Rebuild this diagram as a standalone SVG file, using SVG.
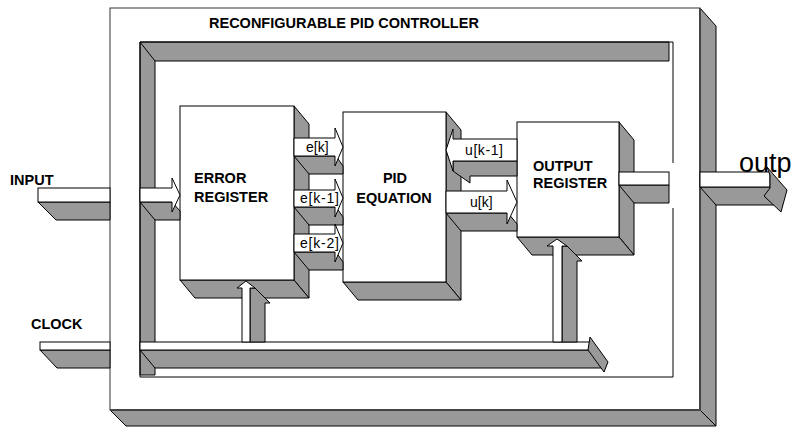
<svg xmlns="http://www.w3.org/2000/svg" width="798" height="428" viewBox="0 0 798 428">
<style>
.g{fill:#999;stroke:#000;stroke-width:1;stroke-linejoin:miter}
.w{fill:#fff;stroke:#000;stroke-width:1}
.b{font-family:"Liberation Sans",Arial,sans-serif;font-weight:bold;font-size:14.5px;fill:#000}
.r{font-family:"Liberation Sans",Arial,sans-serif;font-size:14px;fill:#000}
</style>
<rect width="798" height="428" fill="#fff"/>
<g id="outer-box">
<polygon class="g" points="700,8 716,26 716,426 700,410"/>
<polygon class="g" points="110,410 700,410 716,426 126,426"/>
<rect x="110" y="8" width="590" height="402" fill="#fff" stroke="#333"/>
<polyline points="110,410 700,410 700,8" fill="none" stroke="#444" stroke-width="2"/>
<text class="b" x="209" y="28" font-size="15">RECONFIGURABLE PID CONTROLLER</text>
</g>
<g id="inner-frame">
<polygon class="g" points="140,42 669,42 669,61 155,61 155,375 140,375"/>
<line x1="140" y1="42" x2="155" y2="61" stroke="#000"/>
<path d="M673,163 V42 H140 V377 H673 V208" fill="none" stroke="#000"/>
</g>
<g id="error-register">
<polygon class="g" points="294,106 309,124 309,298 294,280"/>
<polygon class="g" points="180,280 294,280 309,298 195,298"/>
<rect class="w" x="180" y="106" width="114" height="174"/>
<text class="b" x="194" y="183">ERROR</text>
<text class="b" x="194" y="202">REGISTER</text>
</g>
<g id="pid-equation">
<polygon class="g" points="446,112 461,130 461,300 446,282"/>
<polygon class="g" points="343,282 446,282 461,300 358,300"/>
<rect class="w" x="343" y="112" width="103" height="170"/>
<text class="b" x="395" y="183" text-anchor="middle">PID</text>
<text class="b" x="394" y="203" text-anchor="middle">EQUATION</text>
</g>
<g id="output-register">
<polygon class="g" points="619,122 634,140 634,255 619,237"/>
<polygon class="g" points="517,237 619,237 634,255 532,255"/>
<rect class="w" x="517" y="122" width="102" height="115"/>
<text class="b" x="533" y="171">OUTPUT</text>
<text class="b" x="533" y="188">REGISTER</text>
</g>
<g id="connectors">
<g id="input">
<text class="b" x="10" y="185">INPUT</text>
<polygon class="g" points="38,202 110,202 110,220 56,220"/>
<rect class="w" x="38" y="188" width="72" height="14"/>
<polygon class="g" points="140,202 172,202 180,211 180,220 155,220"/>
<polygon class="w" points="140,188 172,188 172,178 180,195 172,212 172,202 140,202"/>
</g>
<g id="clock">
<text class="b" x="31" y="329">CLOCK</text>
<polygon class="g" points="40,350 110,350 110,368 57,368"/>
<rect class="w" x="40" y="342" width="70" height="8"/>
<polygon class="g" points="140,350 590,350 602,368 155,368"/>
<rect class="w" x="140" y="342" width="450" height="8"/>
<polygon class="g" points="590,337 608,362 604,372 588,350"/>
<polygon class="g" points="250,288 255,288 270,303 265,303 265,342 250,342"/>
<polygon class="w" points="242,342 242,288 237,288 246,281 255,288 250,288 250,342"/>
<polygon class="g" points="562,246 567,246 582,261 577,261 577,342 562,342"/>
<polygon class="w" points="553,342 553,246 547,246 557,239 567,246 562,246 562,342"/>
</g>
<g id="ek">
<polygon class="g" points="294,156 336,156 343,166 343,174 309,174"/>
<polygon class="w" points="294,138 335,138 335,128 343,147 335,166 335,156 294,156"/>
<text class="r" x="306" y="152">e[k]</text>
</g>
<g id="ek1">
<polygon class="g" points="294,207 336,207 343,217 343,225 309,225"/>
<polygon class="w" points="294,190 335,190 335,179 343,198 335,217 335,207 294,207"/>
<text class="r" x="300" y="203" textLength="39" lengthAdjust="spacing">e[k-1]</text>
</g>
<g id="ek2">
<polygon class="g" points="294,252 336,252 343,262 343,270 309,270"/>
<polygon class="w" points="294,234 335,234 335,224 343,243 335,262 335,252 294,252"/>
<text class="r" x="300" y="248" textLength="39" lengthAdjust="spacing">e[k-2]</text>
</g>
<g id="uk1">
<polygon class="g" points="453,161 517,161 517,176 470,176 470,183 453,171"/>
<polygon class="w" points="517,139 453,139 453,129 446,150 453,171 453,161 517,161"/>
<text class="r" x="465" y="155" textLength="38" lengthAdjust="spacing">u[k-1]</text>
</g>
<g id="uk">
<polygon class="g" points="446,213 508,213 517,224 517,231 461,231"/>
<polygon class="w" points="446,191 507,191 507,180 517,202 507,224 507,213 446,213"/>
<text class="r" x="470" y="207">u[k]</text>
</g>
<g id="output">
<polygon class="g" points="619,185 669,185 669,203 634,203"/>
<rect class="w" x="619" y="172" width="50" height="13"/>
<text x="739" y="172" font-family="'Liberation Sans',Arial,sans-serif" font-size="27">outp</text>
<polygon class="g" points="700,187 770,187 776,205 716,205"/>
<rect class="w" x="700" y="172" width="70" height="15"/>
<polygon class="g" points="767,167 787,190 781,212 764,196 770,188 770,175"/>
</g>
</g>
</svg>
